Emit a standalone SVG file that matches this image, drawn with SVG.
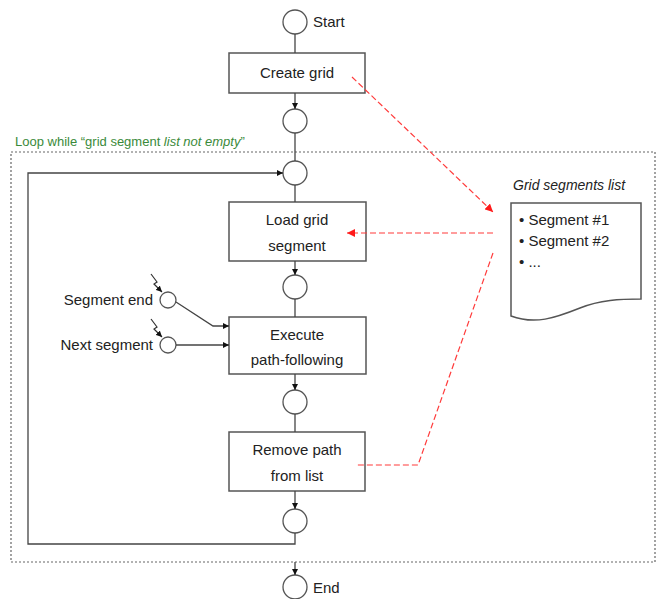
<svg xmlns="http://www.w3.org/2000/svg" width="658" height="599" viewBox="0 0 658 599">
<style>
text{font-family:"Liberation Sans",Arial,sans-serif;fill:#222;}
.lbl{font-size:15px;}
.ctr{text-anchor:middle;}
.box{fill:#fff;stroke:#555;stroke-width:1.5;}
.node{fill:#fff;stroke:#555;stroke-width:1.3;}
.ln{fill:none;stroke:#444;stroke-width:1.3;}
.bolt{fill:none;stroke:#333;stroke-width:1.2;}
.red{fill:none;stroke:#ff3b3b;stroke-width:1.2;stroke-dasharray:6,3;}
.loop{fill:none;stroke:#666;stroke-width:1.2;stroke-dasharray:2,2;}
</style>
<defs>
<marker id="ah" viewBox="0 0 10 10" refX="10" refY="5" markerWidth="6" markerHeight="6" orient="auto" markerUnits="userSpaceOnUse"><path d="M0,0 L10,5 L0,10 z" fill="#111"/></marker>
<marker id="rah" viewBox="0 0 10 10" refX="10" refY="5" markerWidth="8" markerHeight="8" orient="auto" markerUnits="userSpaceOnUse"><path d="M0,0 L10,5 L0,10 z" fill="#ff1a1a"/></marker>
</defs>
<rect class="loop" x="11" y="152" width="644" height="410"/>
<text x="15" y="146" style="font-size:13px;fill:#3a8a3a">Loop while “grid segment <tspan font-style="italic">list not empty</tspan>”</text>
<g id="start"><circle class="node" cx="295" cy="22" r="12"/><text class="lbl" x="313" y="27">Start</text></g>
<g id="create-grid"><rect class="box" x="229" y="53" width="136" height="40"/><text class="lbl ctr" x="297" y="78">Create grid</text></g>
<g id="c1"><circle class="node" cx="295" cy="121" r="12"/></g>
<g id="c2"><circle class="node" cx="295" cy="173" r="12"/></g>
<g id="load"><rect class="box" x="229" y="202" width="137" height="59"/><text class="lbl ctr" x="297" y="225">Load grid</text><text class="lbl ctr" x="297" y="251">segment</text></g>
<g id="c3"><circle class="node" cx="295" cy="287" r="12"/></g>
<g id="seg-end"><circle class="node" cx="168" cy="300" r="8"/><text class="lbl" x="153" y="305" text-anchor="end">Segment end</text></g>
<g id="next-seg"><circle class="node" cx="168" cy="345" r="8"/><text class="lbl" x="153" y="350" text-anchor="end">Next segment</text></g>
<g id="execute"><rect class="box" x="229" y="317" width="137" height="57"/><text class="lbl ctr" x="297" y="340">Execute</text><text class="lbl ctr" x="297" y="365">path-following</text></g>
<g id="c4"><circle class="node" cx="295" cy="402" r="12"/></g>
<g id="remove"><rect class="box" x="229" y="432" width="136" height="59"/><text class="lbl ctr" x="297" y="455">Remove path</text><text class="lbl ctr" x="297" y="481">from list</text></g>
<g id="c5"><circle class="node" cx="295" cy="521" r="12"/></g>
<g id="end"><circle class="node" cx="295" cy="587" r="12"/><text class="lbl" x="313" y="593">End</text></g>
<g id="segments-list">
<text x="513" y="190" style="font-size:14px;font-style:italic">Grid segments list</text>
<path class="box" d="M511,203 H641 V299 C620,299 600,300 580,308 C555,318 535,325 511,316 Z"/>
<text class="lbl" x="519" y="225">• Segment #1</text>
<text class="lbl" x="519" y="246">• Segment #2</text>
<text class="lbl" x="519" y="267">• ...</text>
</g>
<g id="connectors">
<line class="ln" x1="295" y1="34" x2="295" y2="53"/>
<line class="ln" x1="295" y1="93" x2="295" y2="109" marker-end="url(#ah)"/>
<line class="ln" x1="295" y1="133" x2="295" y2="161"/>
<line class="ln" x1="295" y1="185" x2="295" y2="202"/>
<line class="ln" x1="295" y1="261" x2="295" y2="275" marker-end="url(#ah)"/>
<line class="ln" x1="295" y1="299" x2="295" y2="317"/>
<line class="ln" x1="295" y1="374" x2="295" y2="390" marker-end="url(#ah)"/>
<line class="ln" x1="295" y1="414" x2="295" y2="432"/>
<line class="ln" x1="295" y1="491" x2="295" y2="509" marker-end="url(#ah)"/>
<polyline class="ln" points="295,533 295,544 28,544 28,173 283,173" marker-end="url(#ah)"/>
<line class="ln" x1="295" y1="562" x2="295" y2="575" marker-end="url(#ah)"/>
<polyline class="ln" points="176,302 213,326 229,326" marker-end="url(#ah)"/>
<line class="ln" x1="176" y1="345" x2="229" y2="345" marker-end="url(#ah)"/>
<polyline class="bolt" points="151,274 157,282 154,284 162,292" marker-end="url(#ah)"/>
<polyline class="bolt" points="151,319 157,327 154,329 162,337" marker-end="url(#ah)"/>
<line class="red" x1="352" y1="77" x2="493" y2="212" marker-end="url(#rah)"/>
<line class="red" x1="493" y1="233" x2="347" y2="233" marker-end="url(#rah)"/>
<polyline class="red" points="493,253 418,465 355,465"/>
</g>
</svg>
